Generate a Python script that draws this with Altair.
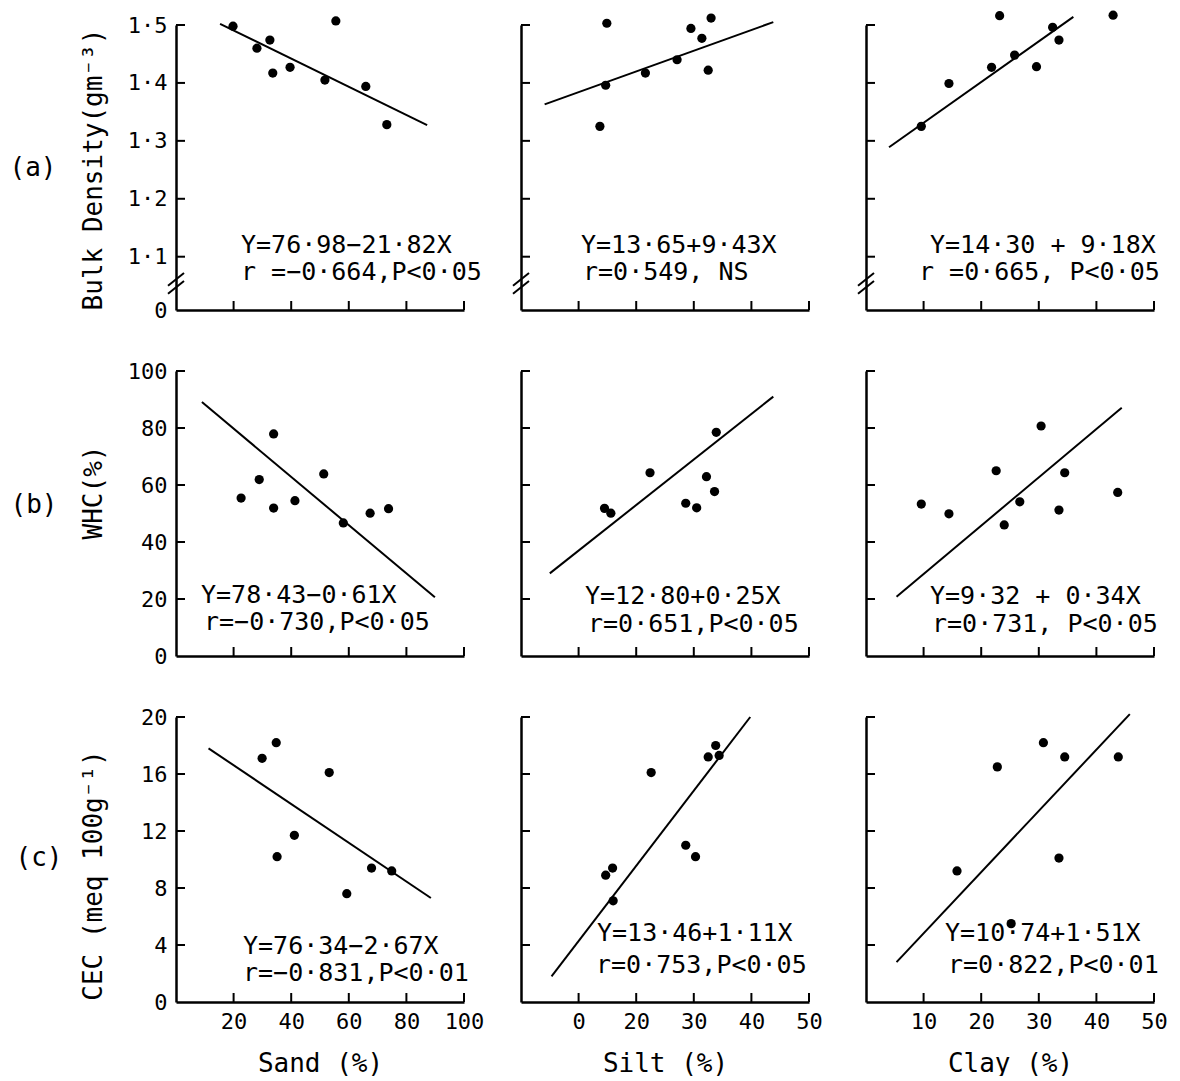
import altair as alt
import pandas as pd

FONT = "DejaVu Sans Mono"
W, H = 288, 285
TICK = 9
AXIS_W = 2.5

# ---- axis ticks and labels -------------------------------------------------
sand_ticks = [20, 40, 60, 80, 100]
sand_tick_labels = ["20", "40", "60", "80", "100"]
silt_ticks = [10, 20, 30, 40, 50]
silt_tick_labels = ["0", "20", "30", "40", "50"]
clay_ticks = [10, 20, 30, 40, 50]
clay_tick_labels = ["10", "20", "30", "40", "50"]

bd_ticks = [1.1, 1.2, 1.3, 1.4, 1.5]
bd_label_values = [1.008, 1.1, 1.2, 1.3, 1.4, 1.5]
bd_tick_labels = ["0", "1·1", "1·2", "1·3", "1·4", "1·5"]
whc_ticks = [20, 40, 60, 80, 100]
whc_label_values = [0, 20, 40, 60, 80, 100]
whc_tick_labels = ["0", "20", "40", "60", "80", "100"]
cec_ticks = [4, 8, 12, 16, 20]
cec_label_values = [0, 4, 8, 12, 16, 20]
cec_tick_labels = ["0", "4", "8", "12", "16", "20"]

# ---- observations ----------------------------------------------------------
# (a) bulk density
bd_sand_x = [19.8, 28.1, 32.6, 33.6, 39.6, 55.5, 51.7, 65.9, 73.2]
bd_sand_y = [1.498, 1.460, 1.474, 1.417, 1.427, 1.507, 1.405, 1.394, 1.328]
bd_silt_x = [14.9, 14.7, 13.7, 21.6, 27.1, 29.5, 31.4, 33.0, 32.5]
bd_silt_y = [1.503, 1.396, 1.325, 1.417, 1.440, 1.494, 1.477, 1.512, 1.422]
bd_clay_x = [9.6, 14.4, 23.2, 21.8, 25.8, 29.6, 32.4, 33.5, 42.9]
bd_clay_y = [1.325, 1.399, 1.516, 1.427, 1.448, 1.428, 1.496, 1.474, 1.517]
# (b) water holding capacity
whc_sand_x = [22.6, 28.9, 33.9, 33.9, 41.3, 51.3, 58.1, 67.4, 73.8]
whc_sand_y = [55.4, 61.9, 77.9, 51.9, 54.5, 63.9, 46.7, 50.1, 51.7]
whc_silt_x = [14.5, 15.6, 22.4, 28.6, 30.5, 32.2, 33.6, 33.9]
whc_silt_y = [51.8, 50.1, 64.3, 53.6, 52.0, 62.9, 57.7, 78.5]
whc_clay_x = [9.6, 14.4, 22.6, 24.0, 26.7, 30.4, 33.5, 34.5, 43.7]
whc_clay_y = [53.3, 49.9, 65.0, 46.0, 54.1, 80.7, 51.2, 64.3, 57.4]
# (c) cation exchange capacity
cec_sand_x = [29.9, 34.8, 35.1, 41.1, 53.2, 59.3, 67.9, 74.9]
cec_sand_y = [17.1, 18.2, 10.2, 11.7, 16.1, 7.6, 9.4, 9.2]
cec_silt_x = [14.7, 15.9, 16.0, 22.6, 28.6, 30.3, 32.5, 33.8, 34.4]
cec_silt_y = [8.9, 9.4, 7.1, 16.1, 11.0, 10.2, 17.2, 18.0, 17.3]
cec_clay_x = [15.8, 22.8, 25.2, 30.8, 33.5, 34.5, 43.8]
cec_clay_y = [9.2, 16.5, 5.5, 18.2, 10.1, 17.2, 17.2]

# ---- fitted regression lines (end points) ----------------------------------
fit_bd_sand = ([15.3, 87.2], [1.502, 1.327])
fit_bd_silt = ([4.1, 43.8], [1.363, 1.505])
fit_bd_clay = ([4.0, 36.0], [1.289, 1.514])
fit_whc_sand = ([9.0, 89.9], [89.1, 20.6])
fit_whc_silt = ([5.0, 43.8], [29.0, 91.0])
fit_whc_clay = ([5.3, 44.4], [20.8, 87.1])
fit_cec_sand = ([11.3, 88.5], [17.8, 7.3])
fit_cec_silt = ([5.3, 39.8], [1.8, 20.0])
fit_cec_clay = ([5.3, 45.8], [2.8, 20.2])

# ---- regression statements -------------------------------------------------
notes = {
    ("bd", "sand"): ["Y=76·98−21·82X", "r =−0·664,P<0·05"],
    ("bd", "silt"): ["Y=13·65+9·43X", "r=0·549, NS"],
    ("bd", "clay"): ["Y=14·30 + 9·18X", "r =0·665, P<0·05"],
    ("whc", "sand"): ["Y=78·43−0·61X", "r=−0·730,P<0·05"],
    ("whc", "silt"): ["Y=12·80+0·25X", "r=0·651,P<0·05"],
    ("whc", "clay"): ["Y=9·32 + 0·34X", "r=0·731, P<0·05"],
    ("cec", "sand"): ["Y=76·34−2·67X", "r=−0·831,P<0·01"],
    ("cec", "silt"): ["Y=13·46+1·11X", "r=0·753,P<0·05"],
    ("cec", "clay"): ["Y=10·74+1·51X", "r=0·822,P<0·01"],
}
# pixel placement of the two statement lines inside each panel
note_pos = {
    ("bd", "sand"): [(65, 220), (65, 247)],
    ("bd", "silt"): [(60, 220), (62, 247)],
    ("bd", "clay"): [(64, 220), (53, 247)],
    ("whc", "sand"): [(25, 224), (28, 251)],
    ("whc", "silt"): [(64, 225), (67, 253)],
    ("whc", "clay"): [(64, 225), (66, 253)],
    ("cec", "sand"): [(67, 229), (67, 256)],
    ("cec", "silt"): [(76, 216), (75, 248)],
    ("cec", "clay"): [(79, 216), (82, 248)],
}

points = {
    ("bd", "sand"): (bd_sand_x, bd_sand_y), ("bd", "silt"): (bd_silt_x, bd_silt_y),
    ("bd", "clay"): (bd_clay_x, bd_clay_y),
    ("whc", "sand"): (whc_sand_x, whc_sand_y), ("whc", "silt"): (whc_silt_x, whc_silt_y),
    ("whc", "clay"): (whc_clay_x, whc_clay_y),
    ("cec", "sand"): (cec_sand_x, cec_sand_y), ("cec", "silt"): (cec_silt_x, cec_silt_y),
    ("cec", "clay"): (cec_clay_x, cec_clay_y),
}
fits = {
    ("bd", "sand"): fit_bd_sand, ("bd", "silt"): fit_bd_silt, ("bd", "clay"): fit_bd_clay,
    ("whc", "sand"): fit_whc_sand, ("whc", "silt"): fit_whc_silt, ("whc", "clay"): fit_whc_clay,
    ("cec", "sand"): fit_cec_sand, ("cec", "silt"): fit_cec_silt, ("cec", "clay"): fit_cec_clay,
}

columns = [
    dict(key="sand", domain=[0, 100], ticks=sand_ticks, labels=sand_tick_labels, title="Sand (%)"),
    dict(key="silt", domain=[0, 50], ticks=silt_ticks, labels=silt_tick_labels, title="Silt (%)"),
    dict(key="clay", domain=[0, 50], ticks=clay_ticks, labels=clay_tick_labels, title="Clay (%)"),
]
rows = [
    dict(key="bd", domain=[1.008, 1.5], ticks=bd_ticks, label_values=bd_label_values,
         labels=bd_tick_labels, title="Bulk Density(gm⁻³)", tag="(a)",
         title_y=144, tag_pos=(-143, 143), breaks=True),
    dict(key="whc", domain=[0, 100], ticks=whc_ticks, label_values=whc_label_values,
         labels=whc_tick_labels, title="WHC(%)", tag="(b)",
         title_y=121, tag_pos=(-142, 134), breaks=False),
    dict(key="cec", domain=[0, 20], ticks=cec_ticks, label_values=cec_label_values,
         labels=cec_tick_labels, title="CEC (meq 100g⁻¹)", tag="(c)",
         title_y=158, tag_pos=(-137, 141), breaks=False),
]
# axis-break strokes on the bulk-density axis (lower end, upper end)
break_lo = [1.036, 1.050]
break_hi = [1.058, 1.072]


def label_expr(values, labels):
    expr = "''"
    for v, lab in reversed(list(zip(values, labels))):
        expr = f"abs(datum.value - {v}) < 1e-6 ? '{lab}' : {expr}"
    return expr


axis_common = dict(domainColor="black", domainWidth=AXIS_W, ticks=False, grid=False,
                   labelColor="black", labelFont=FONT, labelFontSize=22,
                   labelFlush=False, labelOverlap=False)


def panel(row, ri, col, ci):
    key = (row["key"], col["key"])
    xs = alt.Scale(domain=col["domain"], nice=False, zero=False)
    ys = alt.Scale(domain=row["domain"], nice=False, zero=False)

    if ri == 2:
        xaxis = alt.Axis(values=col["ticks"], labelExpr=label_expr(col["ticks"], col["labels"]),
                         labelPadding=9, title=col["title"], titleFont=FONT, titleFontSize=26,
                         titleFontWeight="normal", titleColor="black", titlePadding=18,
                         **axis_common)
        x_enc = alt.X("x:Q", scale=xs, axis=xaxis)
    else:
        xaxis = alt.Axis(labels=False, **axis_common)
        x_enc = alt.X("x:Q", scale=xs, axis=xaxis, title=None)

    if ci == 0:
        yaxis = alt.Axis(values=row["label_values"],
                         labelExpr=label_expr(row["label_values"], row["labels"]),
                         labelPadding=9, labelBaseline="middle",
                         title=row["title"], titleFont=FONT, titleFontSize=26,
                         titleFontWeight="normal", titleColor="black",
                         titleX=-83, titleY=row["title_y"], titleAlign="center",
                         titleBaseline="middle", **axis_common)
        y_enc = alt.Y("y:Q", scale=ys, axis=yaxis)
    else:
        yaxis = alt.Axis(labels=False, **axis_common)
        y_enc = alt.Y("y:Q", scale=ys, axis=yaxis, title=None)

    px, py = points[key]
    dots = alt.Chart(pd.DataFrame({"x": px, "y": py})).mark_circle(
        size=85, color="black", opacity=1).encode(x=x_enc, y=y_enc)

    fx, fy = fits[key]
    fit = alt.Chart(pd.DataFrame({"x": fx, "y": fy})).mark_line(
        color="black", strokeWidth=2).encode(x=x_enc, y=y_enc)

    xt = alt.Chart(pd.DataFrame({"x": col["ticks"]})).mark_rule(
        color="black", strokeWidth=2).encode(x=x_enc, y=alt.value(H), y2=alt.value(H - TICK))
    yt = alt.Chart(pd.DataFrame({"y": row["ticks"]})).mark_rule(
        color="black", strokeWidth=2).encode(y=y_enc, x=alt.value(0), x2=alt.value(TICK))

    layers = [xt, yt, fit, dots]

    for (tx, ty), line in zip(note_pos[key], notes[key]):
        layers.append(
            alt.Chart(pd.DataFrame({"t": [line]})).mark_text(
                font=FONT, fontSize=25, color="black", align="left", baseline="middle"
            ).encode(text="t:N", x=alt.value(tx), y=alt.value(ty))
        )

    if row["breaks"]:
        layers.append(
            alt.Chart(pd.DataFrame({"y": break_lo, "y2": break_hi})).mark_rule(
                color="black", strokeWidth=2).encode(
                y=y_enc, y2="y2:Q", x=alt.value(-8), x2=alt.value(8))
        )

    if ci == 0:
        tx, ty = row["tag_pos"]
        layers.append(
            alt.Chart(pd.DataFrame({"t": [row["tag"]]})).mark_text(
                font=FONT, fontSize=26, color="black", align="center", baseline="middle"
            ).encode(text="t:N", x=alt.value(tx), y=alt.value(ty))
        )

    return alt.layer(*layers).properties(width=W, height=H)


charts = [panel(r, ri, c, ci) for ri, r in enumerate(rows) for ci, c in enumerate(columns)]

chart = alt.concat(
    *charts, columns=3, spacing={"row": 61, "column": 57}, bounds="flush"
).properties(
    padding={"left": 9, "top": 10, "right": 5, "bottom": 0},
    background="white",
).configure(font=FONT, view=alt.ViewConfig(stroke=None))

chart.save("out.html", embed_options={"renderer": "svg", "actions": False})
